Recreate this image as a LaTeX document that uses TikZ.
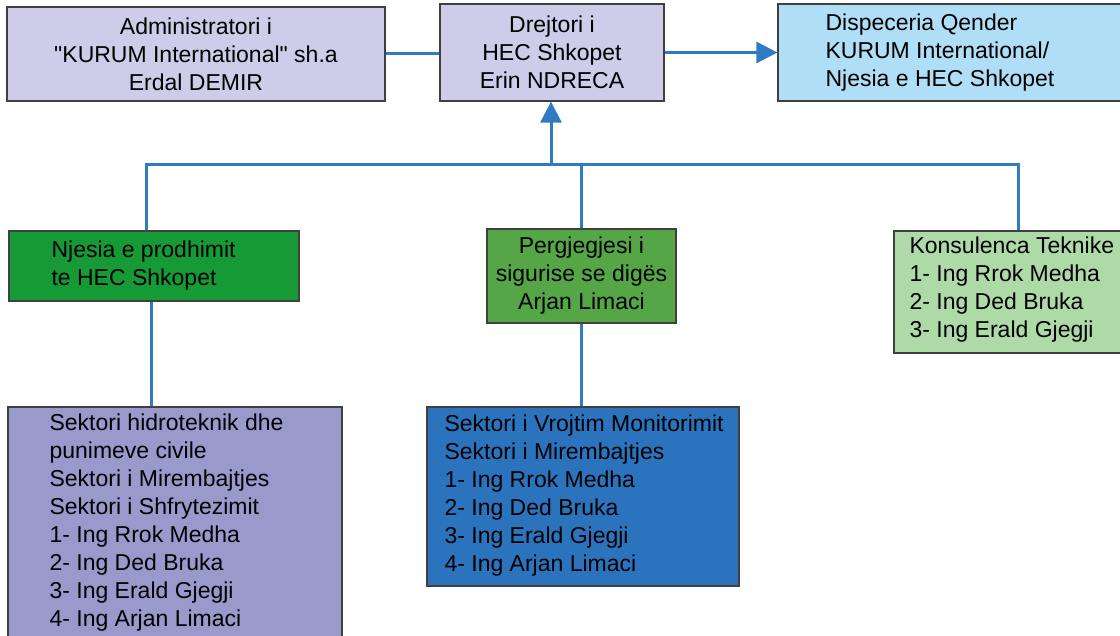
\documentclass[tikz,border=0pt]{standalone}
\usepackage{fontspec}
\setmainfont{Liberation Sans}[Ligatures=TeXOff]
\usetikzlibrary{arrows.meta}
\definecolor{lav}{RGB}{206,204,232}
\definecolor{ltblue}{RGB}{176,222,246}
\definecolor{dkgreen}{RGB}{22,154,53}
\definecolor{midgreen}{RGB}{85,166,71}
\definecolor{ltgreen}{RGB}{174,218,168}
\definecolor{purp}{RGB}{153,153,204}
\definecolor{blue2}{RGB}{43,116,189}
\definecolor{conn}{RGB}{46,123,196}
\definecolor{border}{RGB}{64,64,64}
\tikzset{
  box/.style={draw=border, line width=1.3pt, rectangle, inner sep=0pt, align=center,
    font=\fontsize{23}{28}\selectfont},
  txt/.style={inner sep=0pt, anchor=west, align=left, font=\fontsize{23}{28}\selectfont},
  link/.style={draw=conn, line width=3pt},
  arr/.style={link, -{Triangle[length=21pt,width=21pt]}}
}
\begin{document}
\begin{tikzpicture}[x=1pt,y=-1pt]
\clip (0,0) rectangle (1120,636);
\fill[white] (0,0) rectangle (1120,636);
% top row
\node[box, fill=lav, minimum width=378pt, minimum height=94pt] (b1) at (196,54)
  {Administratori i\\"KURUM International" sh.a\\Erdal DEMIR};
\node[box, fill=lav, minimum width=224pt, minimum height=97pt] (b2) at (552,52.5)
  {Drejtori i\\HEC Shkopet\\Erin NDRECA};
\node[box, fill=ltblue, minimum width=362pt, minimum height=97pt] (b3) at (959,52.5) {};
\node[txt] (b3t) at ([xshift=48pt]b3.west) {Dispeceria Qender\\KURUM International/\\Njesia e HEC Shkopet};
% middle row
\node[box, fill=dkgreen, minimum width=290pt, minimum height=70pt] (b4) at (154,266) {};
\node[txt] (b4t) at ([xshift=43pt]b4.west) {Njesia e prodhimit\\te HEC Shkopet};
\node[box, fill=midgreen, minimum width=189pt, minimum height=94pt] (b5) at (581.5,276)
  {Pergjegjesi i\\sigurise se digës\\Arjan Limaci};
\node[box, fill=ltgreen, minimum width=246pt, minimum height=122pt] (b6) at (1017,292) {};
\node[txt] (b6t) at ([xshift=16pt,yshift=2pt]b6.west) {Konsulenca Teknike\\1- Ing Rrok Medha\\2- Ing Ded Bruka\\3- Ing Erald Gjegji};
% bottom row
\node[box, fill=purp, minimum width=334pt, minimum height=233pt] (b7) at (175,523.5) {};
\node[txt] (b7t) at ([xshift=42pt,yshift=1pt]b7.west) {Sektori hidroteknik dhe\\punimeve civile\\Sektori i Mirembajtjes\\Sektori i Shfrytezimit\\1- Ing Rrok Medha\\2- Ing Ded Bruka\\3- Ing Erald Gjegji\\4- Ing Arjan Limaci};
\node[box, fill=blue2, minimum width=312pt, minimum height=179pt] (b8) at (583,496.5) {};
\node[txt] (b8t) at ([xshift=18pt,yshift=1pt]b8.west) {Sektori i Vrojtim Monitorimit\\Sektori i Mirembajtjes\\1- Ing Rrok Medha\\2- Ing Ded Bruka\\3- Ing Erald Gjegji\\4- Ing Arjan Limaci};
% connectors
\coordinate (hl) at (146,165);
\coordinate (hr) at (1018,165);
\coordinate (j) at (551,165);
\coordinate (v1) at (151,350);
\draw[link] (b1.east) -- (b1.east -| b2.west);
\draw[arr] (b2.east) -- (b3.west);
\draw[link] (hl |- b4.north) -- (hl) -- (hr) -- (hr |- b6.north);
\draw[link] (b5.north) -- (b5.north |- hl);
\draw[arr] (j) -- (j |- b2.south);
\draw[link] (v1 |- b4.south) -- (v1 |- b7.north);
\draw[link] (b5.south) -- (b5.south |- b8.north);
\end{tikzpicture}
\end{document}
